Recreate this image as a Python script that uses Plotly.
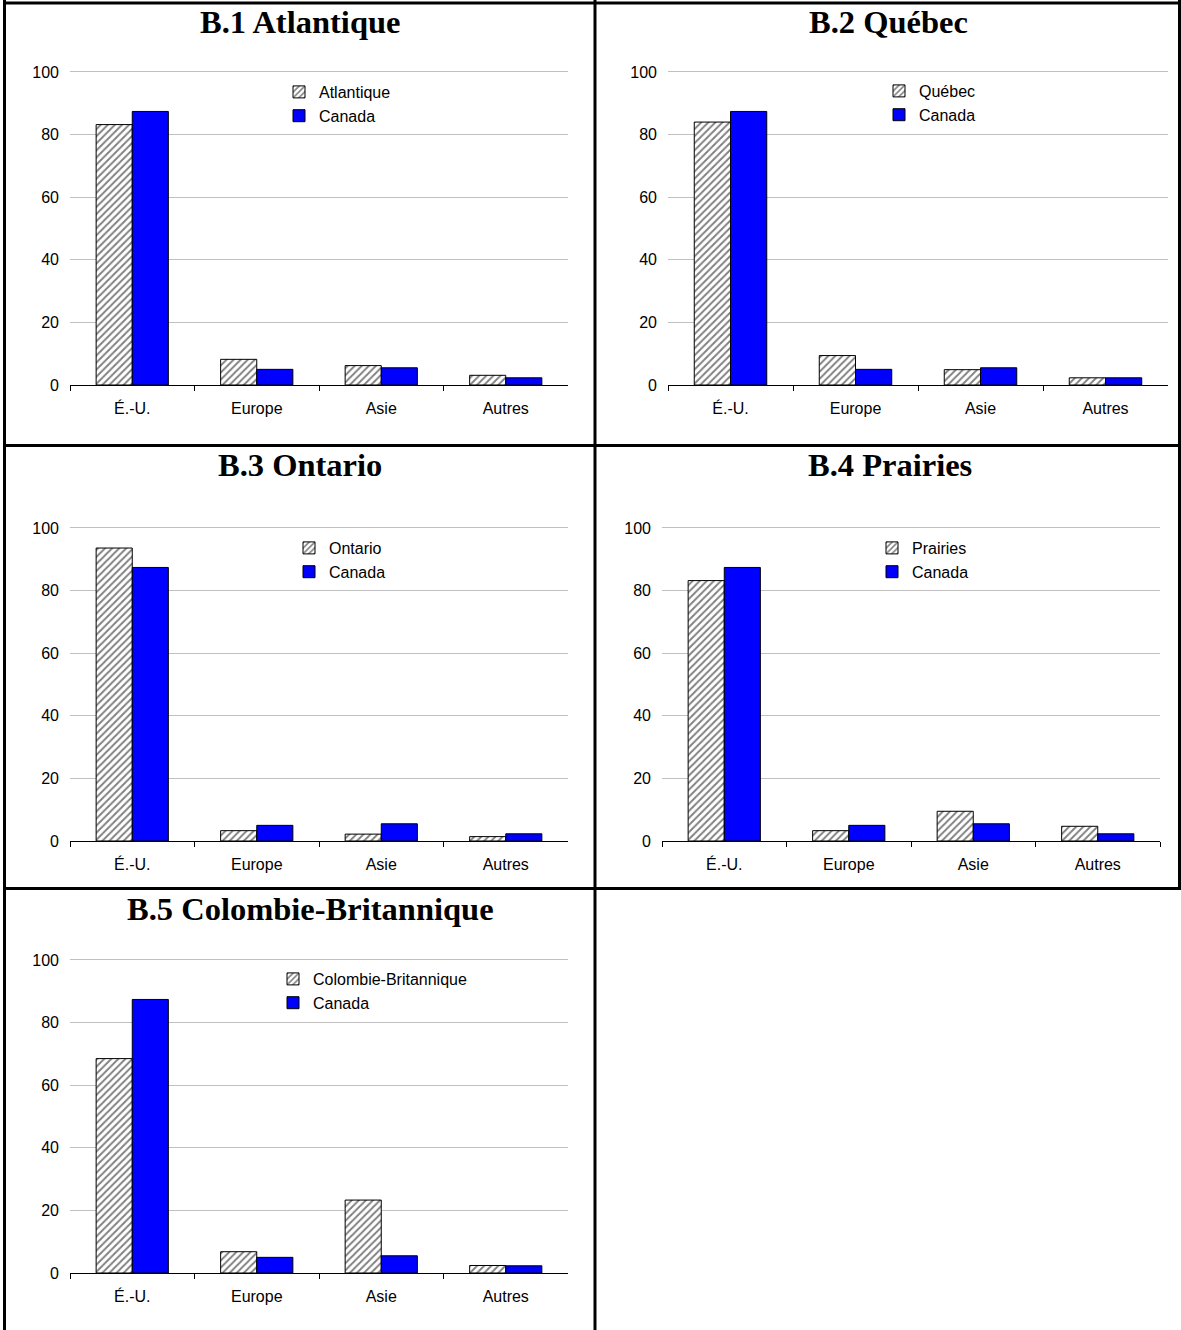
import plotly.graph_objects as go

W, H = 1181, 1330

categories = ["É.-U.", "Europe", "Asie", "Autres"]
canada = [87.4, 5.0, 5.5, 2.3]

regions = ["Atlantique", "Québec", "Ontario", "Prairies", "Colombie-Britannique"]
titles = ["B.1 Atlantique", "B.2 Québec", "B.3 Ontario", "B.4 Prairies",
          "B.5 Colombie-Britannique"]
atlantique = [83.2, 8.2, 6.2, 3.1]
quebec = [84.0, 9.4, 4.9, 2.3]
ontario = [93.6, 3.3, 2.2, 1.4]
prairies = [83.2, 3.3, 9.5, 4.7]
colombie_britannique = [68.5, 6.8, 23.3, 2.4]
region_values = [atlantique, quebec, ontario, prairies, colombie_britannique]
y_ticks = [0, 20, 40, 60, 80, 100]
Y_MAX = 100.4  # a little headroom so the 100 gridline is drawn

# panel geometry in pixels: plot-area left/right, y of value 0 and value 100,
# title centre and legend anchor
panels = [
    dict(x0=70, x1=568, yb=385, yt=72, title=(300, 22), leg=(279, 75)),
    dict(x0=668, x1=1168, yb=385, yt=72, title=(888, 22), leg=(879, 74)),
    dict(x0=70, x1=568, yb=841, yt=528, title=(300, 465), leg=(289, 531)),
    dict(x0=662, x1=1160, yb=841, yt=528, title=(890, 465), leg=(872, 531)),
    dict(x0=70, x1=568, yb=1273, yt=960, title=(310, 909), leg=(273, 962)),
]

def px(x):
    return x / W

def py(y):
    return 1 - y / H

SANS = "Liberation Sans, Arial, sans-serif"
TICK_FONT = dict(family=SANS, size=16, color="black")

fig = go.Figure()
layout = dict(
    width=W, height=H, autosize=False,
    margin=dict(l=0, r=0, t=0, b=0, pad=0, autoexpand=False),
    paper_bgcolor="white", plot_bgcolor="white",
    barmode="group", bargap=0.42, bargroupgap=0,
    showlegend=True,
    annotations=[], shapes=[],
)

for i, (p, name, title, vals) in enumerate(zip(panels, regions, titles, region_values)):
    n = i + 1
    xa = "x" if n == 1 else f"x{n}"
    ya = "y" if n == 1 else f"y{n}"
    lg = "legend" if n == 1 else f"legend{n}"

    fig.add_trace(go.Bar(
        x=categories, y=vals, name=name, xaxis=xa, yaxis=ya, legend=lg,
        marker=dict(color="white", line=dict(color="black", width=1),
                    pattern=dict(shape="/", fgcolor="black", bgcolor="white",
                                 size=5, solidity=0.38)),
    ))
    fig.add_trace(go.Bar(
        x=categories, y=canada, name="Canada", xaxis=xa, yaxis=ya, legend=lg,
        marker=dict(color="#0000FF", line=dict(color="black", width=1)),
    ))

    # pixel top of the plot area, so that value 100 lands on yt
    top_px = p["yb"] - (p["yb"] - p["yt"]) * Y_MAX / 100

    xkey = "xaxis" if n == 1 else f"xaxis{n}"
    ykey = "yaxis" if n == 1 else f"yaxis{n}"
    layout[xkey] = dict(
        domain=[px(p["x0"]), px(p["x1"])], anchor=ya,
        type="category", showgrid=False, zeroline=False,
        showline=True, linecolor="black", linewidth=1,
        ticks="outside", tickson="boundaries", ticklen=5, tickcolor="black",
        tickfont=TICK_FONT, ticklabelstandoff=9, automargin=False,
    )
    layout[ykey] = dict(
        domain=[py(p["yb"]), py(top_px)], anchor=xa,
        range=[0, Y_MAX], tickvals=y_ticks, showline=False, zeroline=False,
        showgrid=True, gridcolor="#c0c0c0", gridwidth=1,
        ticks="", tickfont=TICK_FONT, ticklabelstandoff=10, automargin=False,
    )
    layout[lg] = dict(
        x=px(p["leg"][0]), y=py(p["leg"][1]), xanchor="left", yanchor="top",
        bgcolor="rgba(0,0,0,0)", font=dict(family=SANS, size=16, color="black"),
        tracegroupgap=0, itemwidth=30,
    )
    layout["annotations"].append(dict(
        text=f"<b>{title}</b>", x=px(p["title"][0]), y=py(p["title"][1]),
        xref="paper", yref="paper", xanchor="center", yanchor="middle",
        showarrow=False,
        font=dict(family="Liberation Serif, Times New Roman, serif", size=32.5,
                  color="black"),
    ))

# table borders around the panels
border = dict(color="black", width=3)
for x0, y0, x1, y1 in [
    (3, 3, W, 3),                # top edge
    (4.5, 0, 4.5, H),            # left edge
    (1179.5, 0, 1179.5, 888.5),  # right edge
    (595, 0, 595, H),            # middle divider
    (3, 445.5, W, 445.5),        # first row separator
    (3, 888.5, W, 888.5),        # second row separator
]:
    layout["shapes"].append(dict(type="line", xref="paper", yref="paper",
                                 x0=px(x0), y0=py(y0), x1=px(x1), y1=py(y1),
                                 line=border))

fig.update_layout(**layout)
fig.write_html("out.html")
